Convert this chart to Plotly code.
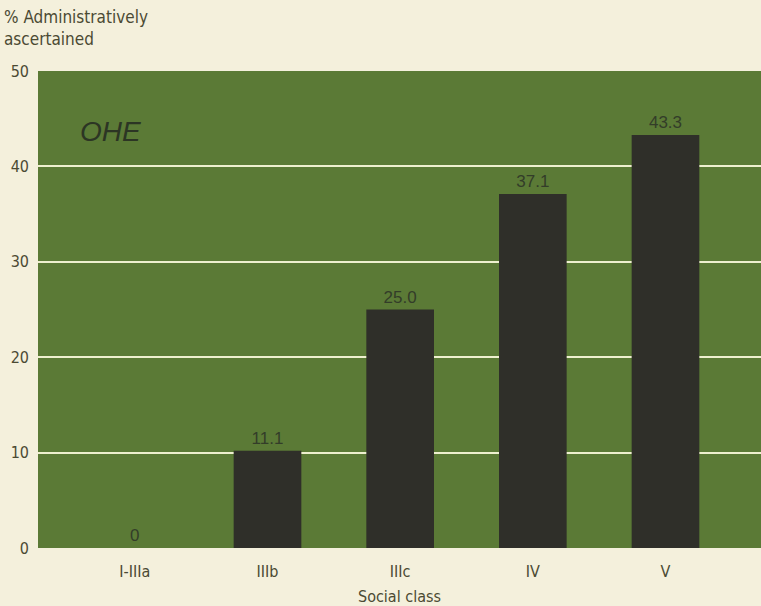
import plotly.graph_objects as go

categories = ["I-IIIa", "IIIb", "IIIc", "IV", "V"]
bar_heights = [0, 10.2, 25.0, 37.1, 43.3]
value_labels = ["0", "11.1", "25.0", "37.1", "43.3"]
y_ticks = [0, 10, 20, 30, 40, 50]

font_narrow = "DejaVu Sans Condensed, Liberation Sans Narrow, Arial Narrow, sans-serif"
text_col = "#4b4a33"

fig = go.Figure()
fig.add_trace(go.Bar(
    x=list(range(len(categories))), y=bar_heights,
    width=0.51,
    marker=dict(color="#2f2f29", line=dict(width=0)),
    text=value_labels, textposition="outside", cliponaxis=False,
    textfont=dict(family="Liberation Sans, Arial, sans-serif", size=17, color="#333d29"),
    hoverinfo="skip",
))

fig.update_layout(
    width=761, height=606,
    margin=dict(l=38, r=0, t=71, b=58),
    paper_bgcolor="#f4f0dc",
    plot_bgcolor="#5b7a36",
    showlegend=False,
    bargap=0.49,
    font=dict(family=font_narrow, size=15, color=text_col),
    xaxis=dict(
        tickmode="array", tickvals=list(range(len(categories))), ticktext=categories,
        range=[-0.73, 4.72], showgrid=False, zeroline=False, showline=False,
        ticks="", ticklabelstandoff=12, tickfont=dict(family=font_narrow, size=16, color=text_col),
        title=dict(text="Social class", font=dict(family=font_narrow, size=16, color=text_col), standoff=10),
    ),
    yaxis=dict(
        range=[0, 50], tickvals=y_ticks, showgrid=True, gridcolor="#eef0cf", gridwidth=2,
        zeroline=False, showline=False, ticks="", ticklabelstandoff=8,
        tickfont=dict(family=font_narrow, size=16, color=text_col),
    ),
    annotations=[
        dict(text="% Administratively<br>ascertained", xref="paper", yref="paper",
             x=-36/723, y=1 + 66/477, xanchor="left", yanchor="top", showarrow=False, align="left",
             font=dict(family=font_narrow, size=17, color=text_col)),
        dict(text="<i>OHE</i>", xref="paper", yref="paper",
             x=(78-38)/723, y=1 - (131-71)/477, xanchor="left", yanchor="middle", showarrow=False,
             font=dict(family="Liberation Sans, Arial, sans-serif", size=28, color="#2c3524")),
    ],
)

fig.write_html("out.html")
